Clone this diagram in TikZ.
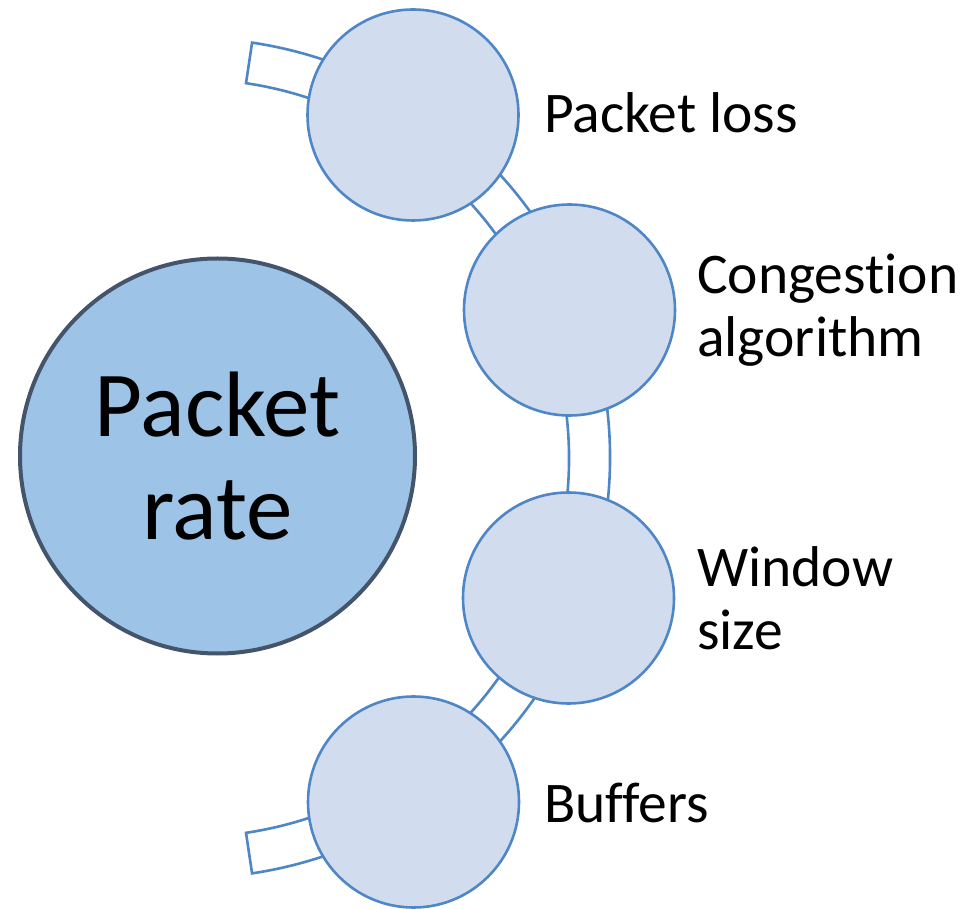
\documentclass[tikz,border=0pt]{standalone}
\usepackage{fontspec}
\setmainfont[Ligatures=NoCommon]{Carlito}
\usetikzlibrary{calc}
\definecolor{lineblue}{HTML}{4F86C6}
\definecolor{smallfill}{HTML}{D1DDEF}
\definecolor{bigfill}{HTML}{9DC3E6}
\definecolor{bigline}{HTML}{44546A}
\begin{document}
\begin{tikzpicture}[x=1pt,y=1pt,
  smallcirc/.style={circle, draw=lineblue, line width=2.6pt, fill=smallfill, minimum size=211pt, inner sep=0pt},
  bigcirc/.style={circle, draw=bigline, line width=4pt, fill=bigfill, minimum size=395pt, inner sep=0pt, align=center, font=\fontsize{93}{103}\selectfont},
  band/.style={draw=lineblue, line width=2.6pt, fill=white},
  lbl/.style={anchor=west, align=left, inner sep=0pt, font=\fontsize{57.5}{63}\selectfont}]
\useasboundingbox (0,0) rectangle (971,908);
\coordinate (B) at (190,450);
% band (annulus segment)
\draw[band] ($(B)+(81.5:420)$) arc[start angle=81.5, end angle=-81.5, radius=420]
  -- ($(B)+(-81.5:379)$) arc[start angle=-81.5, end angle=81.5, radius=379] -- cycle;
% big circle
\node[bigcirc] (big) at (217.5,452) {Packet\\rate};
% small circles
\node[smallcirc] (c1) at (413,793) {};
\node[smallcirc] (c2) at (569.5,598) {};
\node[smallcirc] (c3) at (568.5,310) {};
\node[smallcirc] (c4) at (413.5,106) {};
% labels
\node[lbl] (l1) at (544,795) {Packet loss};
\node[lbl] (l2) at (697,598) {Congestion\\algorithm};
\node[lbl] (l3) at (697,310) {Window\\size};
\node[lbl] (l4) at (544,105) {Buffers};
\end{tikzpicture}
\end{document}
